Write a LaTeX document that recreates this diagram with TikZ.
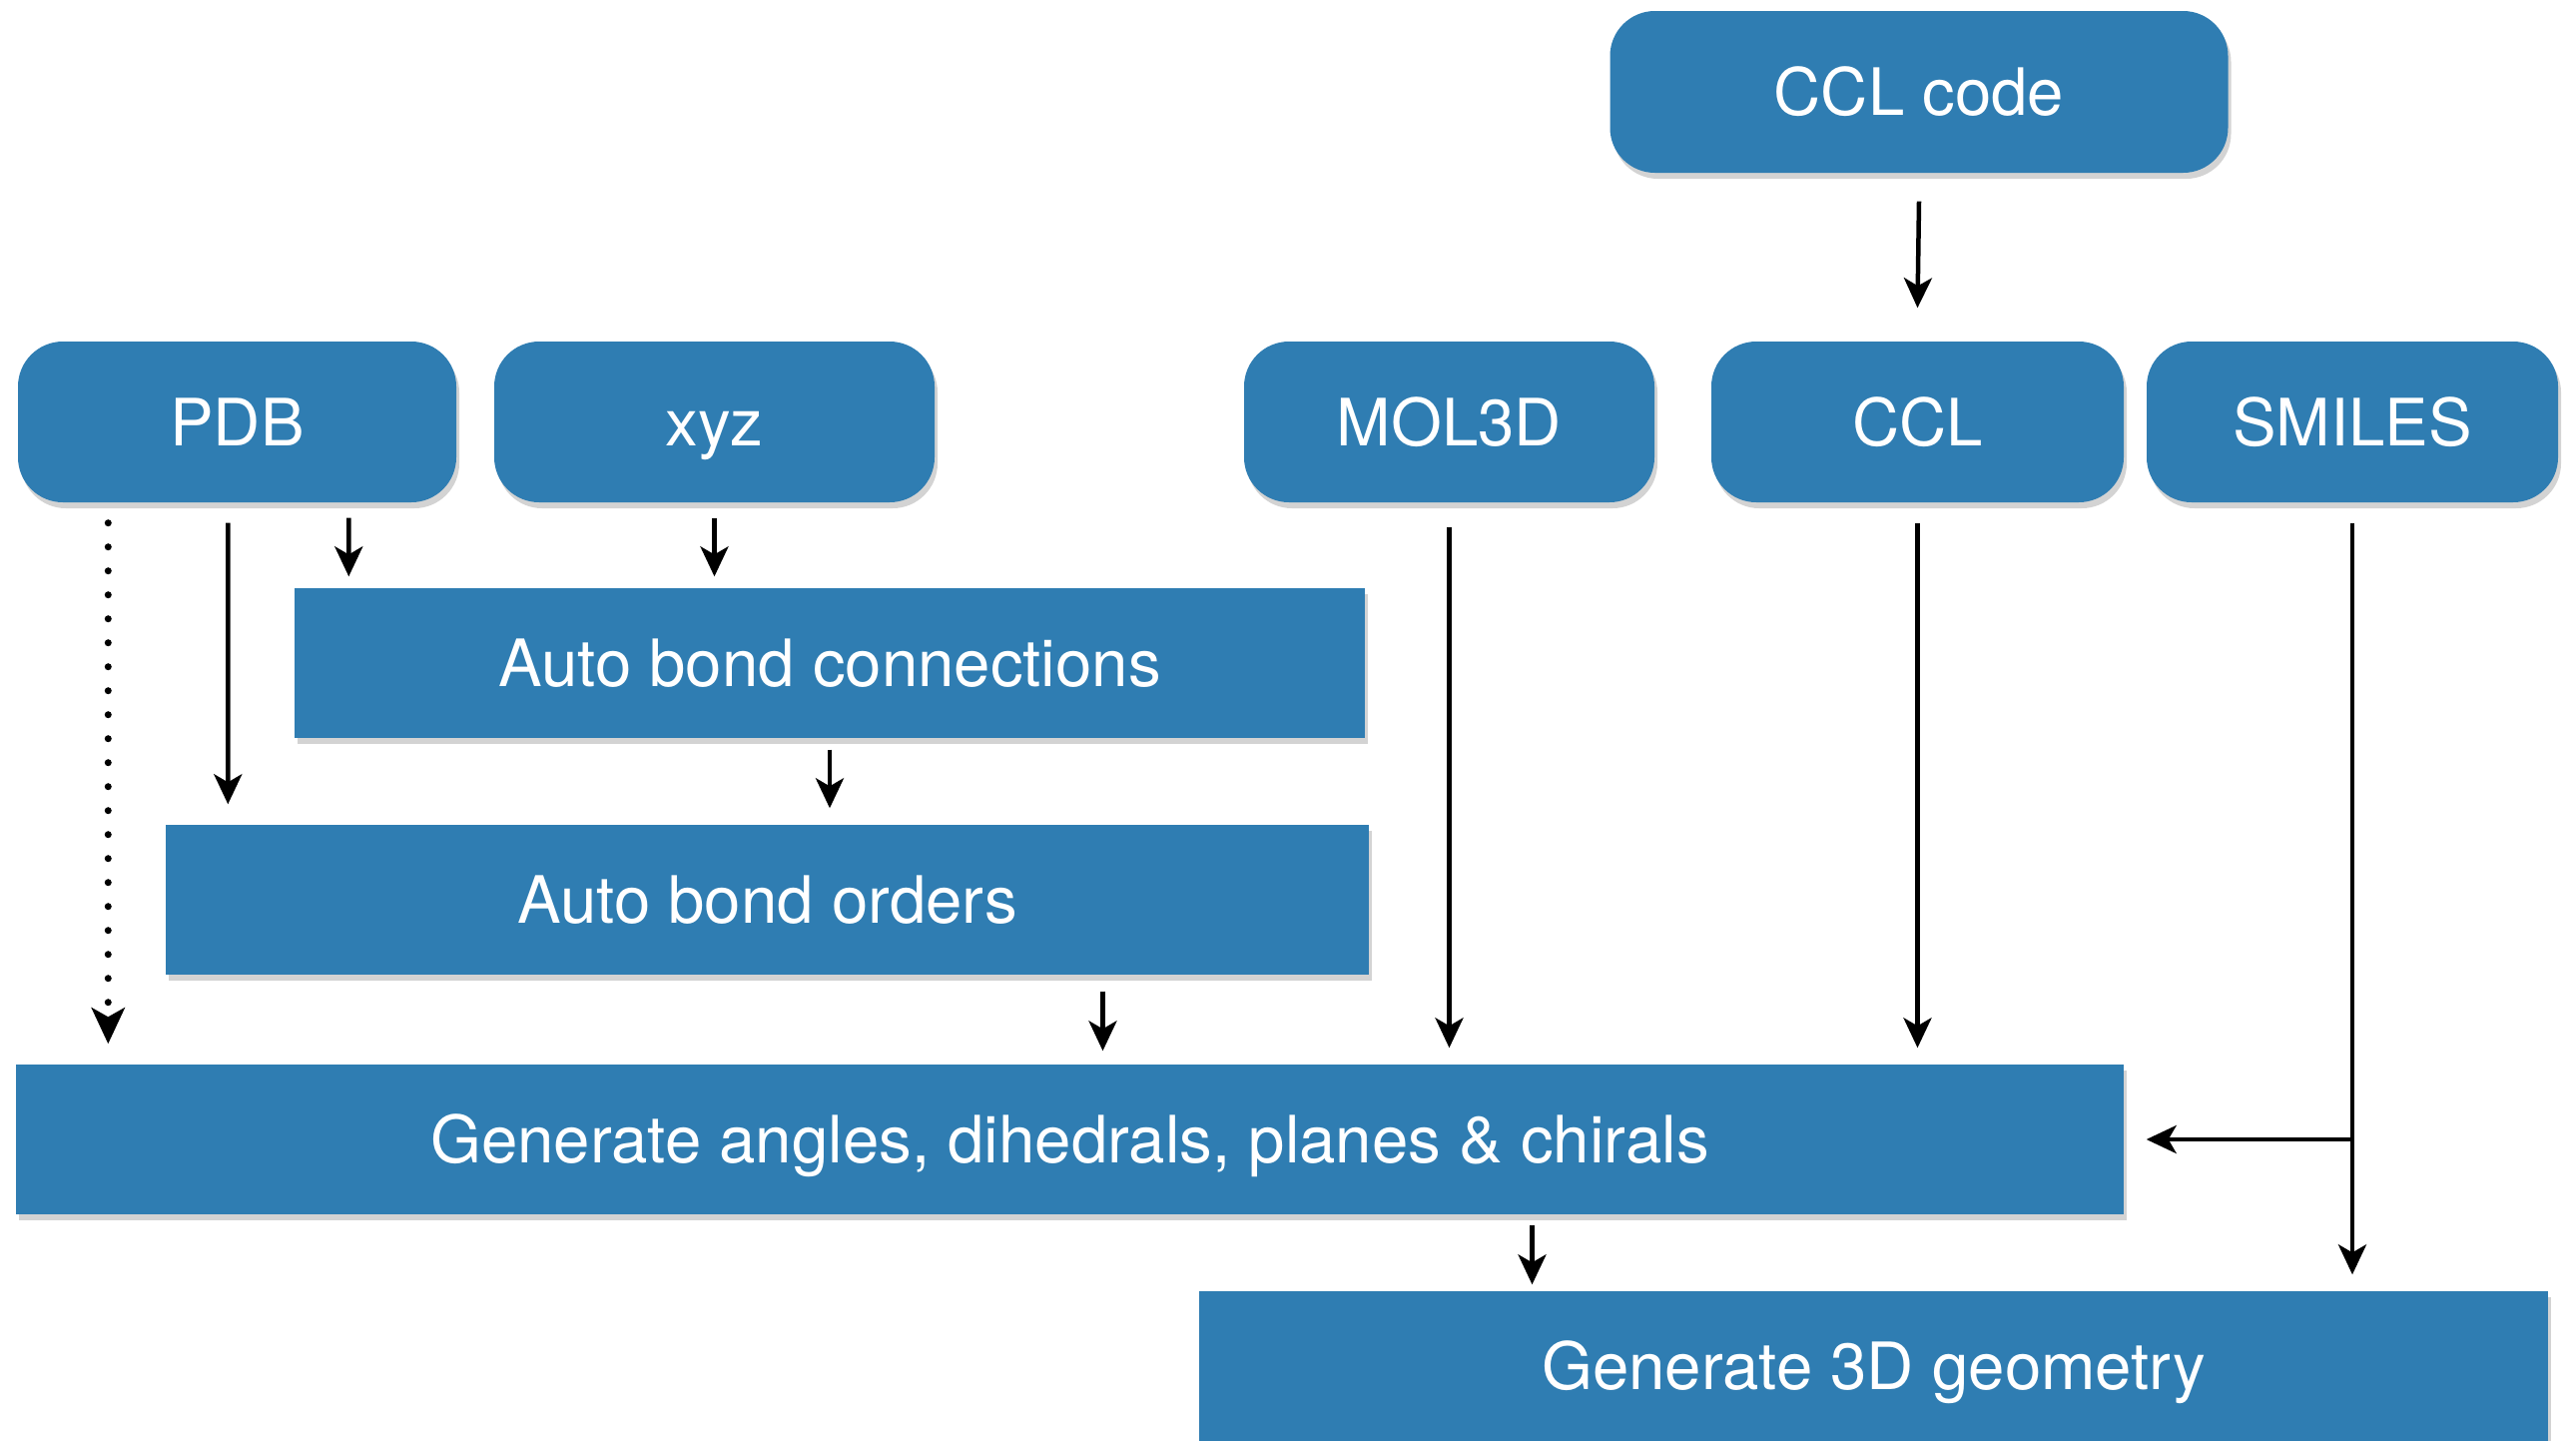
\documentclass[tikz,border=0pt]{standalone}
\usepackage{fontspec}
\setmainfont{TeX Gyre Heros}
\usetikzlibrary{arrows.meta, positioning, shadows}
\definecolor{boxblue}{HTML}{2F7DB2}

\tikzset{
  basebox/.style={draw=none, fill=boxblue, text=white, inner sep=0pt,
    font=\fontsize{18.6}{21}\selectfont, text height=0.47cm, text depth=0pt,
    drop shadow={shadow xshift=0.03cm, shadow yshift=-0.06cm, opacity=0.35}},
  inbox/.style={basebox, rectangle, rounded corners=0.45cm, minimum height=1.61cm},
  stepbox/.style={basebox, rectangle, minimum height=1.5cm},
  flow/.style={-{Stealth[length=0.3cm, width=0.28cm, inset=0.08cm]}, line width=0.045cm},
  flowdot/.style={-{Stealth[length=0.36cm, width=0.33cm, inset=0.09cm]}, line width=0.07cm,
    line cap=round, dash pattern=on 0pt off 0.24cm}
}

\begin{document}
\begin{tikzpicture}
\useasboundingbox (0,0) rectangle (25.8,-14.43);

% Input formats
\node[inbox, minimum width=6.19cm, minimum height=1.62cm] (ccode) at (19.22,-0.92) {CCL code};
\node[inbox, minimum width=4.39cm] (pdb) at (2.375,-4.225) {PDB};
\node[inbox, minimum width=4.41cm] (xyz) at (7.155,-4.225) {xyz};
\node[inbox, minimum width=4.11cm] (mol) at (14.515,-4.225) {MOL3D};
\node[inbox, minimum width=4.13cm] (ccl) at (19.205,-4.225) {CCL};
\node[inbox, minimum width=4.12cm] (smiles) at (23.56,-4.225) {SMILES};

% Processing steps
\node[stepbox, minimum width=10.72cm] (abc) at (8.31,-6.64) {Auto bond connections};
\node[stepbox, minimum width=12.05cm] (abo) at (7.685,-9.01) {Auto bond orders};
\node[stepbox, minimum width=21.11cm] (gen) at (10.715,-11.41) {Generate angles, dihedrals, planes \& chirals};
\node[stepbox, minimum width=13.51cm] (g3d) at (18.765,-13.68) {Generate 3D geometry};

% Arrows
\draw[flow] ([yshift=-0.28cm]ccode.south) -- ([yshift=0.33cm]ccl.north);
\draw[flowdot] ([xshift=0.91cm,yshift=-0.2cm]pdb.south west) -- ([xshift=0.93cm,yshift=0.2cm]gen.north west);
\draw[flow] ([xshift=2.11cm,yshift=-0.2cm]pdb.south west) -- ([xshift=0.63cm,yshift=0.2cm]abo.north west);
\draw[flow] ([xshift=3.32cm,yshift=-0.15cm]pdb.south west) -- ([xshift=0.55cm,yshift=0.11cm]abc.north west);
\draw[flow] ([yshift=-0.15cm]xyz.south) -- ([yshift=0.11cm]abc.north -| xyz.south);
\draw[flow] ([yshift=-0.11cm]abc.south) -- ([yshift=0.16cm]abo.north -| abc.south);
\draw[flow] ([xshift=3.36cm,yshift=-0.16cm]abo.south) -- ([xshift=3.36cm,yshift=0.13cm]gen.north -| abo.south);
\draw[flow] ([yshift=-0.24cm]mol.south) -- ([yshift=0.16cm]gen.north -| mol.south);
\draw[flow] ([yshift=-0.2cm]ccl.south) -- ([yshift=0.16cm]gen.north -| ccl.south);
\coordinate (split) at (smiles.south |- gen.east);
\draw[flow] ([yshift=-0.2cm]smiles.south) -- ([yshift=0.16cm]g3d.north -| smiles.south);
\draw[flow] (split) -- ([xshift=0.22cm]gen.east);
\draw[flow] ([xshift=4.63cm,yshift=-0.1cm]gen.south) -- ([xshift=4.63cm,yshift=0.06cm]g3d.north -| gen.south);
\end{tikzpicture}
\end{document}
